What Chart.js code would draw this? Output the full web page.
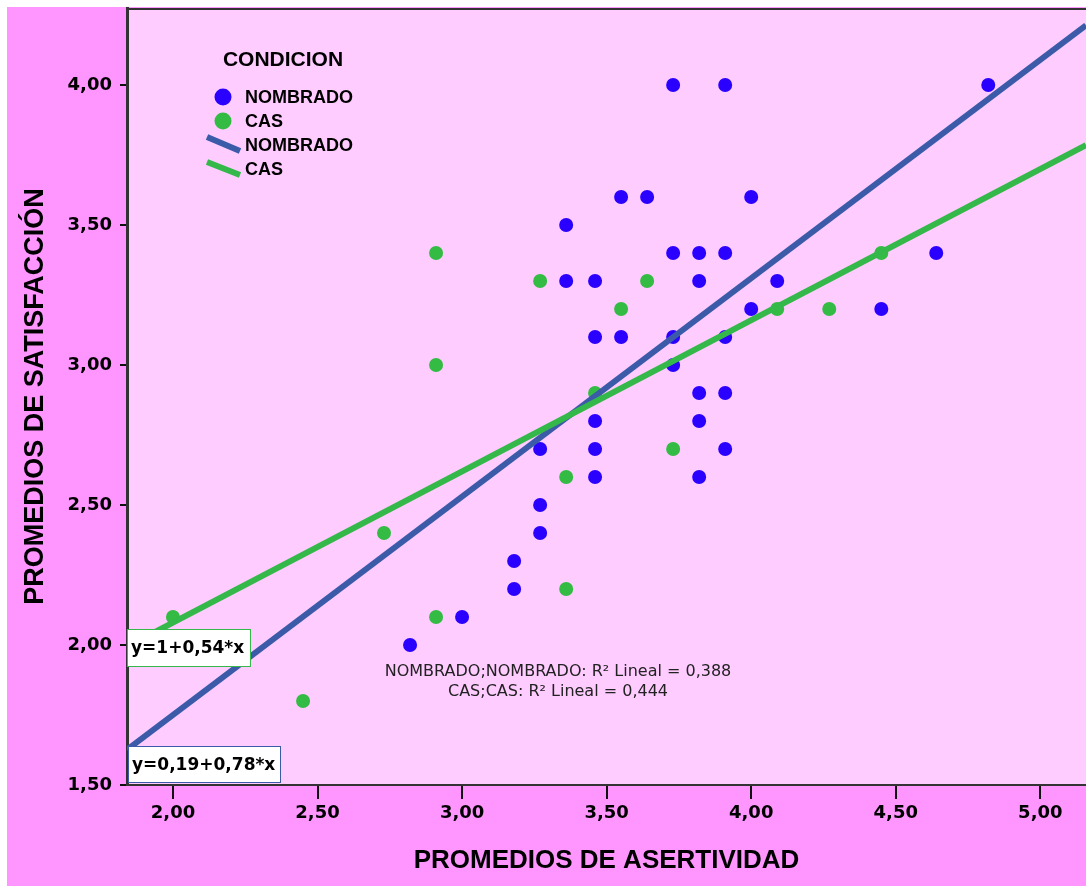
<!DOCTYPE html>
<html>
<head>
<meta charset="utf-8">
<script src="https://cdn.jsdelivr.net/npm/chart.js@4.4.1/dist/chart.umd.min.js"></script>
<style>
  html, body { margin: 0; padding: 0; background: #ffffff; }
  #wrap { position: absolute; left: 7px; top: 7px; width: 1079px; height: 879px; background: #FF96FF; }
  canvas { display: block; }
</style>
</head>
<body>
<div id="wrap"><canvas id="c" width="1079" height="879"></canvas></div>
<script>
// ---- Data ----
const nombradoX = [3.73, 3.91, 4.82, 3.36, 3.55, 3.64, 4.00, 3.73, 3.82, 3.91, 3.36, 3.46, 3.82, 4.09, 4.00, 4.45, 4.64,
                   3.46, 3.55, 3.73, 3.91, 3.73, 3.82, 3.91, 3.46, 3.82, 3.27, 3.46, 3.91, 3.46, 3.82, 3.27, 3.27, 3.18, 3.18, 3.00, 2.82];
const nombradoY = [4.00, 4.00, 4.00, 3.50, 3.60, 3.60, 3.60, 3.40, 3.40, 3.40, 3.30, 3.30, 3.30, 3.30, 3.20, 3.20, 3.40,
                   3.10, 3.10, 3.10, 3.10, 3.00, 2.90, 2.90, 2.80, 2.80, 2.70, 2.70, 2.70, 2.60, 2.60, 2.50, 2.40, 2.30, 2.20, 2.10, 2.00];
const casX = [2.00, 2.45, 2.73, 2.91, 2.91, 2.91, 3.27, 3.36, 3.36, 3.46, 3.55, 3.64, 3.73, 4.09, 4.27, 4.45];
const casY = [2.10, 1.80, 2.40, 3.40, 3.00, 2.10, 3.30, 2.60, 2.20, 2.90, 3.20, 3.30, 2.70, 3.20, 3.20, 3.40];

const nombradoFit = [0.19, 0.78];   // intercept, slope
const casFit = [1.00, 0.54];
const r2Labels = ['NOMBRADO;NOMBRADO: R\u00B2 Lineal = 0,388', 'CAS;CAS: R\u00B2 Lineal = 0,444'];
const eqLabels = ['y=1+0,54*x', 'y=0,19+0,78*x'];

const xTickValues = [2.0, 2.5, 3.0, 3.5, 4.0, 4.5, 5.0];
const yTickValues = [1.5, 2.0, 2.5, 3.0, 3.5, 4.0];
const xRange = [1.841, 5.158];
const yRange = [1.5, 4.275];

const legendTitle = 'CONDICION';
const seriesNames = ['NOMBRADO', 'CAS'];
const axisTitles = ['PROMEDIOS DE ASERTIVIDAD', 'PROMEDIOS DE SATISFACCI\u00D3N'];

// ---- Styles ----
const BLUE_PT = '#2A00FF';
const GREEN_PT = '#33BB44';
const BLUE_LN = '#3B5BA9';
const GREEN_LN = '#35B84A';

const toPts = (xs, ys) => xs.map((x, i) => ({ x: x, y: ys[i] }));
const fitLine = (f) => xRange.map(x => ({ x: x, y: f[0] + f[1] * x }));
const fmt = v => v.toFixed(2).replace('.', ',');

const bgPlugin = {
  id: 'bg',
  beforeDraw(chart) {
    const { ctx, chartArea: a } = chart;
    ctx.save();
    ctx.fillStyle = '#FFCCFF';
    ctx.fillRect(a.left, a.top, a.right - a.left, a.bottom - a.top);
    ctx.restore();
  },
  afterDraw(chart) {
    const { ctx, chartArea: a } = chart;
    ctx.save();
    ctx.strokeStyle = '#333333';
    ctx.lineWidth = 2;
    ctx.beginPath();
    ctx.moveTo(a.left, a.top + 1);
    ctx.lineTo(a.right, a.top + 1);
    ctx.stroke();
    ctx.restore();
  }
};

const annotPlugin = {
  id: 'annot',
  afterDatasetsDraw(chart) {
    const { ctx, chartArea: a } = chart;
    const L = a.left, T = a.top;
    ctx.save();
    // equation boxes
    const boxes = [
      { x: L + 0, y: T + 621, w: 124, h: 38, color: GREEN_LN, text: eqLabels[0] },
      { x: L + 1, y: T + 738, w: 153, h: 37, color: BLUE_LN, text: eqLabels[1] }
    ];
    boxes.forEach(b => {
      ctx.fillStyle = '#ffffff';
      ctx.fillRect(b.x, b.y, b.w, b.h);
      ctx.strokeStyle = b.color;
      ctx.lineWidth = 1;
      ctx.strokeRect(b.x + 0.5, b.y + 0.5, b.w - 1, b.h - 1);
      ctx.fillStyle = '#000000';
      ctx.font = 'bold 17px "DejaVu Sans"';
      ctx.textAlign = 'left';
      ctx.textBaseline = 'middle';
      ctx.fillText(b.text, b.x + 4, b.y + b.h / 2 + 1);
    });
    // R2 labels
    ctx.fillStyle = '#222222';
    ctx.font = '16px "DejaVu Sans"';
    ctx.textAlign = 'center';
    ctx.textBaseline = 'middle';
    ctx.fillText(r2Labels[0], L + 431, T + 664);
    ctx.fillText(r2Labels[1], L + 431, T + 684);

    // legend
    ctx.fillStyle = '#000000';
    ctx.font = 'bold 21px "Liberation Sans", Arial';
    ctx.textAlign = 'center';
    ctx.fillText(legendTitle, L + 156, T + 52);
    ctx.font = 'bold 18px "Liberation Sans", Arial';
    ctx.textAlign = 'left';
    // dots
    ctx.fillStyle = BLUE_PT;
    ctx.beginPath(); ctx.arc(L + 96, T + 89, 8.5, 0, Math.PI * 2); ctx.fill();
    ctx.fillStyle = GREEN_PT;
    ctx.beginPath(); ctx.arc(L + 96, T + 113, 8.5, 0, Math.PI * 2); ctx.fill();
    // lines
    ctx.lineWidth = 6;
    ctx.lineCap = 'butt';
    ctx.strokeStyle = BLUE_LN;
    ctx.beginPath(); ctx.moveTo(L + 80, T + 129); ctx.lineTo(L + 113, T + 143); ctx.stroke();
    ctx.strokeStyle = GREEN_LN;
    ctx.beginPath(); ctx.moveTo(L + 80, T + 154); ctx.lineTo(L + 113, T + 167); ctx.stroke();
    ctx.fillStyle = '#000000';
    ctx.fillText(seriesNames[0], L + 118, T + 90);
    ctx.fillText(seriesNames[1], L + 118, T + 114);
    ctx.fillText(seriesNames[0], L + 118, T + 138);
    ctx.fillText(seriesNames[1], L + 118, T + 162);
    ctx.restore();
  }
};

const ctx = document.getElementById('c').getContext('2d');
new Chart(ctx, {
  type: 'scatter',
  data: {
    datasets: [
      { label: seriesNames[1] + ' fit', type: 'line', data: fitLine(casFit), borderColor: GREEN_LN, borderWidth: 6,
        pointRadius: 0, fill: false, tension: 0, order: 0 },
      { label: seriesNames[0] + ' fit', type: 'line', data: fitLine(nombradoFit), borderColor: BLUE_LN, borderWidth: 6,
        pointRadius: 0, fill: false, tension: 0, order: 1 },
      { label: seriesNames[1], data: toPts(casX, casY), backgroundColor: GREEN_PT, borderWidth: 0,
        pointRadius: 7, order: 2 },
      { label: seriesNames[0], data: toPts(nombradoX, nombradoY), backgroundColor: BLUE_PT, borderWidth: 0,
        pointRadius: 7, order: 3 }
    ]
  },
  options: {
    responsive: false,
    animation: false,
    layout: { autoPadding: false, padding: { top: 1, right: 0, left: 0, bottom: 0 } },
    plugins: { legend: { display: false }, tooltip: { enabled: false } },
    scales: {
      x: {
        type: 'linear', position: 'bottom',
        min: xRange[0], max: xRange[1],
        afterBuildTicks: s => { s.ticks = xTickValues.map(v => ({ value: v })); },
        afterFit: s => { s.height = 101; s.paddingLeft = 0; s.paddingRight = 0; },
        grid: { drawOnChartArea: false, drawTicks: true, tickLength: 14, color: '#111111', lineWidth: 2 },
        border: { display: true, color: '#333333', width: 2 },
        ticks: { callback: v => fmt(v), color: '#000000', padding: 4,
                 font: { family: 'DejaVu Sans', weight: 'bold', size: 18 }, maxRotation: 0, autoSkip: false },
        title: { display: true, text: axisTitles[0], color: '#000000',
                 font: { family: 'Liberation Sans', weight: 'bold', size: 26 }, padding: { top: 0, bottom: 10 } }
      },
      y: {
        type: 'linear', position: 'left',
        min: yRange[0], max: yRange[1],
        afterBuildTicks: s => { s.ticks = yTickValues.map(v => ({ value: v })); },
        afterFit: s => { s.width = 120; s.paddingTop = 0; s.paddingBottom = 0; },
        grid: { drawOnChartArea: false, drawTicks: true, tickLength: 7, color: '#111111', lineWidth: 2 },
        border: { display: true, color: '#333333', width: 3 },
        ticks: { callback: v => fmt(v), color: '#000000', padding: 8,
                 font: { family: 'DejaVu Sans', weight: 'bold', size: 18 }, autoSkip: false },
        title: { display: true, text: axisTitles[1], color: '#000000',
                 font: { family: 'Liberation Sans', weight: 'bold', size: 27 }, padding: { top: 12, bottom: 0 } }
      }
    }
  },
  plugins: [bgPlugin, annotPlugin]
});
</script>
</body>
</html>
